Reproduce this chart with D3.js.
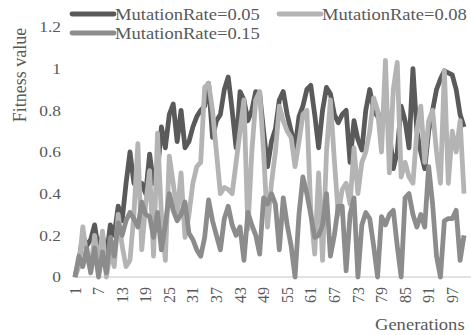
<!DOCTYPE html>
<html>
<head>
<meta charset="utf-8">
<script src="https://cdn.jsdelivr.net/npm/d3@7"></script>
<style>
  body { margin: 0; background: #fff; }
  svg { display: block; }
  text { font-family: "Liberation Serif", "Times New Roman", serif; fill: #595959; }
</style>
</head>
<body>
<svg id="chart" width="471" height="335"></svg>
<script>
// generations 1..100
const generations = d3.range(1, 101);
const yTicks = [0, 0.2, 0.4, 0.6, 0.8, 1, 1.2];

const rate005 = [
  0, 0.08, 0.2, 0.15, 0.18, 0.25, 0.13, 0.2, 0.1, 0.25,
  0.2, 0.34, 0.27, 0.45, 0.6, 0.45, 0.43, 0.45, 0.4, 0.59,
  0.45, 0.5, 0.72, 0.62, 0.78, 0.83, 0.65, 0.8, 0.62, 0.65,
  0.72, 0.77, 0.8, 0.82, 0.93, 0.67, 0.75, 0.78, 0.9, 0.96,
  0.8, 0.62, 0.89, 0.85, 0.75, 0.8, 0.89, 0.88, 0.7, 0.53,
  0.65, 0.71, 0.85, 0.89, 0.78, 0.7, 0.62, 0.77, 0.82, 0.9,
  0.92, 0.78, 0.62, 0.8, 0.91, 0.88, 0.78, 0.74, 0.78, 0.8,
  0.55, 0.75, 0.66, 0.61, 0.8, 0.9, 0.8, 0.77, 0.75, 0.85,
  0.7, 0.52, 0.6, 0.82, 0.75, 0.62, 1.0, 0.7, 0.6, 0.52,
  0.7, 0.8, 0.9, 0.95, 0.99, 0.98, 0.97, 0.9, 0.78, 0.72
];
const rate008 = [
  0, 0.05, 0.24, 0.1, 0.03, 0.2, 0.05, 0.22, 0.0, 0.12,
  0.05, 0.3, 0.15, 0.05, 0.08, 0.3, 0.64, 0.13, 0.35, 0.51,
  0.1, 0.69, 0.3, 0.08, 0.58, 0.45, 0.3, 0.5, 0.19, 0.3,
  0.45, 0.53, 0.55, 0.91, 0.93, 0.8, 0.6, 0.4, 0.43, 0.42,
  0.4, 0.55, 0.7, 0.85, 0.23, 0.6, 0.85, 0.89, 0.6, 0.24,
  0.45, 0.6, 0.82, 0.75, 0.7, 0.67, 0.53, 0.65, 0.78, 0.8,
  0.32, 0.11, 0.5, 0.08, 0.6, 0.85, 0.56, 0.3, 0.42, 0.45,
  0.35, 0.62, 0.4, 0.55, 0.6, 0.7, 0.86, 0.8, 0.6, 1.04,
  0.5, 0.9, 1.03, 0.48, 0.55, 0.48, 0.45, 0.7, 0.82, 0.55,
  0.75, 0.8, 0.6, 0.45, 0.99, 0.45, 0.7, 0.6, 0.75, 0.4
];
const rate015 = [
  0, 0.1, 0.05, 0.14, 0.02, 0.14, 0, 0.12, 0.02, 0.19,
  0.1, 0.26, 0.2, 0.27, 0.31, 0.28, 0.24, 0.36, 0.3, 0.29,
  0.19, 0.31, 0.13, 0.25, 0.4, 0.32, 0.27, 0.3, 0.36, 0.21,
  0.18, 0.13, 0.1, 0.19, 0.37, 0.27, 0.2, 0.13, 0.28, 0.34,
  0.25, 0.2, 0.24, 0.08, 0.31, 0.25, 0.2, 0.11, 0.38, 0.35,
  0.4, 0.35, 0.13, 0.38, 0.25, 0.15, 0, 0.3, 0.48, 0.4,
  0.3, 0.19, 0.2, 0.25, 0.4, 0.1, 0.2, 0.34, 0.34, 0.03,
  0.3, 0.38, 0, 0.25, 0.31, 0.28, 0.15, 0, 0.29, 0.25,
  0.3, 0.32, 0.15, 0, 0.38, 0.4, 0.3, 0.24, 0.3, 0.24,
  0.53, 0.35, 0.1, 0, 0.27, 0.28, 0.28, 0.32, 0.08, 0.2
];

const series = [
  {name: "MutationRate=0.05", values: rate005, color: "#5a5a5a"},
  {name: "MutationRate=0.08", values: rate008, color: "#b4b4b4"},
  {name: "MutationRate=0.15", values: rate015, color: "#8c8c8c"}
];

const svg = d3.select("#chart");
const stretch = 1.16; // text in the picture is a bit wider than tall

const x = d3.scaleBand().domain(generations).range([73, 466]);
const y = d3.scaleLinear().domain([0, 1.2]).range([277, 27]);
const cx = d => x(d) + x.bandwidth() / 2;

// category axis line
svg.append("line")
  .attr("x1", 73).attr("x2", 471)
  .attr("y1", y(0)).attr("y2", y(0))
  .attr("stroke", "#d9d9d9").attr("stroke-width", 1.5);

// y tick labels
svg.append("g").selectAll("text")
  .data(yTicks)
  .enter().append("text")
  .attr("transform", d => "translate(61," + y(d) + ") scale(" + stretch + ",1)")
  .attr("text-anchor", "end")
  .attr("dy", "0.35em")
  .style("font-size", "15px")
  .text(d => d3.format("")(d));

// x tick labels, every 6th generation
svg.append("g").selectAll("text")
  .data(generations.filter(d => (d - 1) % 6 === 0))
  .enter().append("text")
  .attr("transform", d => "translate(" + cx(d) + ",287) rotate(-90)")
  .attr("text-anchor", "end")
  .attr("dy", "0.35em")
  .style("font-size", "16px")
  .text(d => d);

// lines
const line = d3.line()
  .x((d, i) => cx(generations[i]))
  .y(d => y(d));

svg.append("g").selectAll("path")
  .data(series)
  .enter().append("path")
  .attr("d", d => line(d.values))
  .attr("fill", "none")
  .attr("stroke", d => d.color)
  .attr("stroke-width", 4.8)
  .attr("stroke-linejoin", "round");

// legend
const legendPos = [[72, 14], [279, 14], [72, 33]];
const legend = svg.append("g").selectAll("g")
  .data(series)
  .enter().append("g")
  .attr("transform", (d, i) => "translate(" + legendPos[i][0] + "," + legendPos[i][1] + ")");
legend.append("line")
  .attr("x1", 0).attr("x2", 42)
  .attr("stroke", d => d.color)
  .attr("stroke-width", 4.8)
  .attr("stroke-linecap", "round");
legend.append("text")
  .attr("transform", "translate(43,0) scale(" + stretch + ",1)")
  .attr("dy", "0.35em")
  .style("font-size", "16px")
  .text(d => d.name);

// axis titles
svg.append("text")
  .attr("transform", "translate(26,75) rotate(-90)")
  .attr("text-anchor", "middle")
  .style("font-size", "18px")
  .text("Fitness value");

svg.append("text")
  .attr("transform", "translate(375,330) scale(" + stretch + ",1)")
  .style("font-size", "16px")
  .text("Generations");
</script>
</body>
</html>
